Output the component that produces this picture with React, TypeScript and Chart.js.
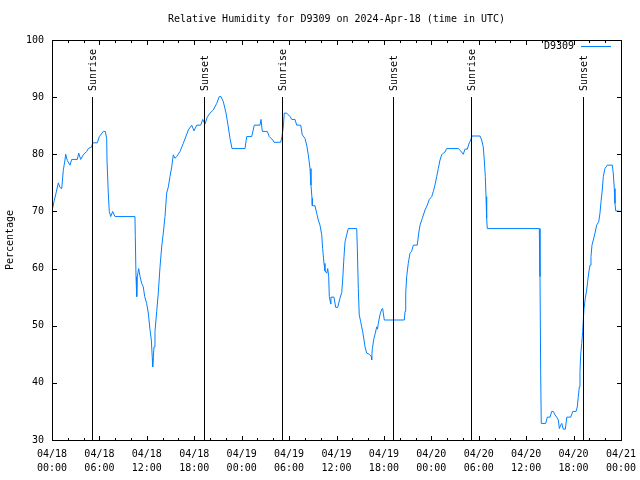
import React, { useEffect, useRef } from "react";
import { Chart, registerables } from "chart.js";

Chart.register(...registerables);

// Hours since 2024-04-18 00:00 UTC
const hours = [
  0, 0.25, 0.51, 0.8, 1.01, 1.23, 1.43, 1.64, 1.73, 1.94,
  2.28, 2.49, 3.2, 3.38, 3.63, 3.96, 4.39, 4.59, 5.02, 5.15,
  5.73, 5.99, 6.49, 6.74, 6.92, 6.96, 7.12, 7.25, 7.43, 7.68,
  7.97, 10.5, 10.54, 10.63, 10.72, 10.79, 10.97, 11.14, 11.35, 11.55,
  11.73, 11.98, 12.19, 12.4, 12.57, 12.69, 12.74, 12.91, 13.03, 13.25,
  13.45, 13.67, 13.88, 14.08, 14.3, 14.51, 14.72, 14.93, 15.15, 15.35,
  15.56, 15.78, 16.2, 16.61, 17.25, 17.68, 17.97, 18.31, 18.82, 19.07,
  19.36, 19.65, 19.99, 20.41, 20.84, 21.17, 21.38, 21.68, 22.02, 22.31,
  22.52, 22.78, 24.42, 24.64, 25.27, 25.6, 26.32, 26.45, 26.61, 27.24,
  27.5, 27.93, 28.09, 28.94, 29.1, 29.27, 29.39, 29.7, 30.12, 30.33,
  30.75, 30.96, 31.47, 31.67, 32.01, 32.23, 32.43, 32.65, 32.77, 32.9,
  32.94, 33.28, 33.49, 33.7, 33.91, 34.13, 34.25, 34.42, 34.54, 34.76,
  34.89, 35.01, 35.09, 35.27, 35.3, 35.68, 35.9, 36.15, 36.44, 36.66,
  36.78, 36.95, 37.08, 37.29, 37.49, 38.56, 38.63, 38.76, 38.88, 39.06,
  39.19, 39.31, 39.48, 39.61, 39.82, 40.15, 40.4, 40.45, 40.53, 40.74,
  40.91, 41.09, 41.19, 41.29, 41.5, 41.72, 41.85, 41.92, 42.05, 44.58,
  44.67, 44.76, 44.88, 45.08, 45.3, 45.51, 45.72, 46.22, 46.4, 46.57,
  46.86, 47.2, 47.49, 47.74, 48.05, 48.25, 48.46, 48.68, 48.88, 49.1,
  49.31, 49.51, 49.73, 49.94, 51.41, 51.71, 52.04, 52.26, 52.55, 52.8,
  52.98, 53.15, 54.16, 54.37, 54.57, 54.7, 54.83, 54.92, 55, 55.08,
  61.66, 61.75, 61.84, 61.91, 62.47, 62.67, 63.02, 63.23, 63.43, 63.65,
  63.86, 64.07, 64.2, 64.37, 64.5, 64.7, 64.96, 65.14, 65.64, 65.9,
  66.31, 66.47, 66.6, 66.73, 66.81, 66.9, 67.03, 67.15, 67.23, 67.32,
  67.48, 67.66, 67.78, 67.91, 68.08, 68.2, 68.33, 68.5, 68.71, 68.92,
  69.18, 69.34, 69.47, 69.63, 69.76, 69.97, 70.26, 70.9, 71.02, 71.15,
  71.24, 71.33, 72,
];

const humidity = [
  70, 71.7, 73.2, 75, 74.2, 74, 77.2, 79, 80, 78.9,
  78.1, 79.1, 79.1, 80.2, 79.1, 79.9, 80.5, 81, 81.3, 82,
  82, 83.1, 84, 84, 82.8, 79, 73.2, 70, 69.1, 70,
  69.1, 69.1, 65.6, 58.6, 55.1, 58.6, 60, 58.6, 57.4, 56.8,
  55.1, 53.9, 52.2, 49.3, 47.5, 44.3, 42.8, 46.3, 49, 52.5,
  55.7, 60.3, 63.8, 66.2, 69.1, 73.2, 74.3, 76.1, 77.8, 79.9,
  79.3, 79.6, 80.5, 81.9, 84.25, 85.1, 84.1, 85.1, 85.1, 86.1,
  85.3, 86.5, 87.2, 87.75, 88.9, 90.1, 90.1, 89.2, 87.2, 84.8,
  82.8, 81, 81, 83.1, 83.1, 85.1, 85.1, 86.1, 84, 84,
  83.1, 82.5, 82.1, 82.1, 83.1, 84.8, 87.2, 87.2, 86.6, 86.1,
  86.1, 85.1, 85.1, 83.4, 82.8, 81.6, 79.9, 77.5, 74.6, 72.3,
  71, 71, 69.7, 68.5, 67.6, 65.9, 63.5, 60.9, 59.6, 59.2,
  60, 58.6, 55.1, 53.8, 55, 55, 53.2, 53.2, 54.8, 55.8,
  58, 62.1, 64.7, 65.9, 67, 67, 63.8, 56.5, 51.9, 50.7,
  49.8, 49, 47.5, 46.3, 45.2, 45, 44.6, 44, 46, 47.8,
  48.7, 49.8, 49.4, 50.4, 51.9, 52.9, 53, 52.2, 51, 51,
  52.5, 55.7, 58.6, 60.9, 62.7, 63, 64.1, 64.1, 66.2, 67.6,
  68.8, 70.25, 71.1, 72.1, 72.6, 73.5, 74.6, 76.1, 77.5, 79,
  79.9, 80.2, 80.4, 81, 81, 80.6, 80, 80.9, 80.9, 82,
  82.5, 83.2, 83.2, 82.5, 81.3, 79, 76.1, 72.6, 68.8, 67,
  67, 58.6, 41.4, 32.9, 32.9, 34, 34, 35, 35, 34.4,
  34, 33.5, 32, 32.6, 32.9, 31.9, 31.9, 34, 34, 35,
  35, 35.8, 37.6, 39.3, 42, 44.9, 46.9, 49, 51, 53,
  54.8, 56.25, 57.7, 59.2, 60.6, 62.1, 64.1, 65, 66.2, 67.6,
  68.2, 69.7, 71.7, 73.75, 76.1, 77.5, 78.1, 78.1, 76.7, 74,
  71.4, 70.1, 70,
];

const eventHours = [5.1, 19.27, 29.14, 43.19, 53.06, 67.23];
const eventLabels = ["Sunrise", "Sunset", "Sunrise", "Sunset", "Sunrise", "Sunset"];
const eventTop = 90;

const xTickDates = ["04/18", "04/18", "04/18", "04/18", "04/19", "04/19", "04/19", "04/19", "04/20", "04/20", "04/20", "04/20", "04/21"];
const xTickTimes = ["00:00", "06:00", "12:00", "18:00", "00:00", "06:00", "12:00", "18:00", "00:00", "06:00", "12:00", "18:00", "00:00"];
const yTicks = [30, 40, 50, 60, 70, 80, 90, 100];

const seriesName = "D9309";
const chartTitle = "Relative Humidity for D9309 on 2024-Apr-18 (time in UTC)";
const yAxisTitle = "Percentage";

const LINE_COLOR = "rgb(0,128,255)";
const FAMILY = '"DejaVu Sans Mono", "Liberation Mono", monospace';
const FONT = `10px ${FAMILY}`;

const gnuplotPlugin = {
  id: "gnuplotDecor",
  afterDatasetsDraw(chart: any) {
    const { ctx, chartArea: a, scales } = chart;
    const x = scales.x;
    const y = scales.y;
    ctx.save();
    ctx.fillStyle = "#000";
    const yTop = Math.round(y.getPixelForValue(eventTop));
    const B = Math.round(a.bottom);
    ctx.font = FONT;
    eventHours.forEach((h, i) => {
      const px = Math.round(x.getPixelForValue(h));
      ctx.fillRect(px, yTop, 1, B - yTop);
      ctx.save();
      ctx.translate(px + 1, yTop - 6);
      ctx.rotate(-Math.PI / 2);
      ctx.textAlign = "left";
      ctx.textBaseline = "middle";
      ctx.fillText(eventLabels[i], 0, 0);
      ctx.restore();
    });
    ctx.restore();
  },
  afterDraw(chart: any) {
    const { ctx, chartArea: a, scales } = chart;
    const x = scales.x;
    const y = scales.y;
    const L = Math.round(a.left);
    const R = Math.round(a.right);
    const T = Math.round(a.top);
    const B = Math.round(a.bottom);
    ctx.save();
    ctx.fillStyle = "#000";
    // border
    ctx.fillRect(L, T, R - L + 1, 1);
    ctx.fillRect(L, B, R - L + 1, 1);
    ctx.fillRect(L, T, 1, B - T + 1);
    ctx.fillRect(R, T, 1, B - T + 1);
    // x ticks (major every 6 h, minor every 2 h), mirrored
    for (let h = x.min; h <= x.max + 1e-9; h += 2) {
      const px = Math.round(x.getPixelForValue(h));
      const len = Math.round(h) % 6 === 0 ? 5 : 3;
      ctx.fillRect(px, B - len + 1, 1, len);
      ctx.fillRect(px, T, 1, len);
    }
    // y ticks, mirrored
    for (const v of yTicks) {
      const py = Math.round(y.getPixelForValue(v));
      ctx.fillRect(L, py, 5, 1);
      ctx.fillRect(R - 4, py, 5, 1);
    }
    // title
    ctx.font = FONT;
    ctx.textAlign = "center";
    ctx.textBaseline = "middle";
    ctx.fillText(chartTitle, (a.left + a.right) / 2, 19);
    // legend
    ctx.textAlign = "right";
    ctx.fillText(seriesName, R - 47, T + 6);
    ctx.fillStyle = LINE_COLOR;
    ctx.fillRect(R - 40, T + 6, 30, 1);
    ctx.restore();
  },
};

export default function App() {
  const ref = useRef<HTMLCanvasElement | null>(null);
  useEffect(() => {
    document.body.style.margin = "0";
    const canvas = ref.current;
    if (!canvas) return;
    const chart = new Chart(canvas, {
      type: "line",
      data: {
        datasets: [
          {
            label: seriesName,
            data: hours.map((h, i) => ({ x: h, y: humidity[i] })),
            borderColor: LINE_COLOR,
            backgroundColor: LINE_COLOR,
            borderWidth: 1,
            pointRadius: 0,
            tension: 0,
            fill: false,
          },
        ],
      },
      options: {
        responsive: false,
        animation: false,
        devicePixelRatio: 1,
        layout: { padding: { top: 40, right: 19, left: 0, bottom: 0 } },
        plugins: {
          legend: { display: false },
          title: { display: false },
          tooltip: { enabled: false },
        },
        scales: {
          x: {
            type: "linear",
            min: 0,
            max: 72,
            grid: { display: false, drawTicks: false, tickLength: 0 },
            border: { display: false },
            ticks: {
              stepSize: 6,
              autoSkip: false,
              maxRotation: 0,
              minRotation: 0,
              padding: 7,
              color: "#000",
              font: { family: FAMILY, size: 10, lineHeight: 1.4 },
              callback: (v: any) => {
                const i = Math.round(Number(v) / 6);
                return [xTickDates[i], xTickTimes[i]];
              },
            },
            afterFit: (s: any) => {
              s.height = 40;
              s.paddingLeft = 0;
              s.paddingRight = 0;
            },
          },
          y: {
            type: "linear",
            min: 30,
            max: 100,
            grid: { display: false, drawTicks: false, tickLength: 0 },
            border: { display: false },
            ticks: {
              stepSize: 10,
              padding: 8,
              color: "#000",
              font: { family: FAMILY, size: 10 },
              callback: (v: any) => String(v),
            },
            title: {
              display: true,
              text: yAxisTitle,
              color: "#000",
              font: { family: FAMILY, size: 10 },
              padding: { top: 4, bottom: 0 },
            },
            afterFit: (s: any) => {
              s.width = 52;
              s.paddingTop = 0;
              s.paddingBottom = 0;
            },
          },
        },
      },
      plugins: [gnuplotPlugin],
    });
    return () => chart.destroy();
  }, []);
  return (
    <canvas
      ref={ref}
      width={640}
      height={480}
      style={{ display: "block", width: 640, height: 480 }}
    />
  );
}
